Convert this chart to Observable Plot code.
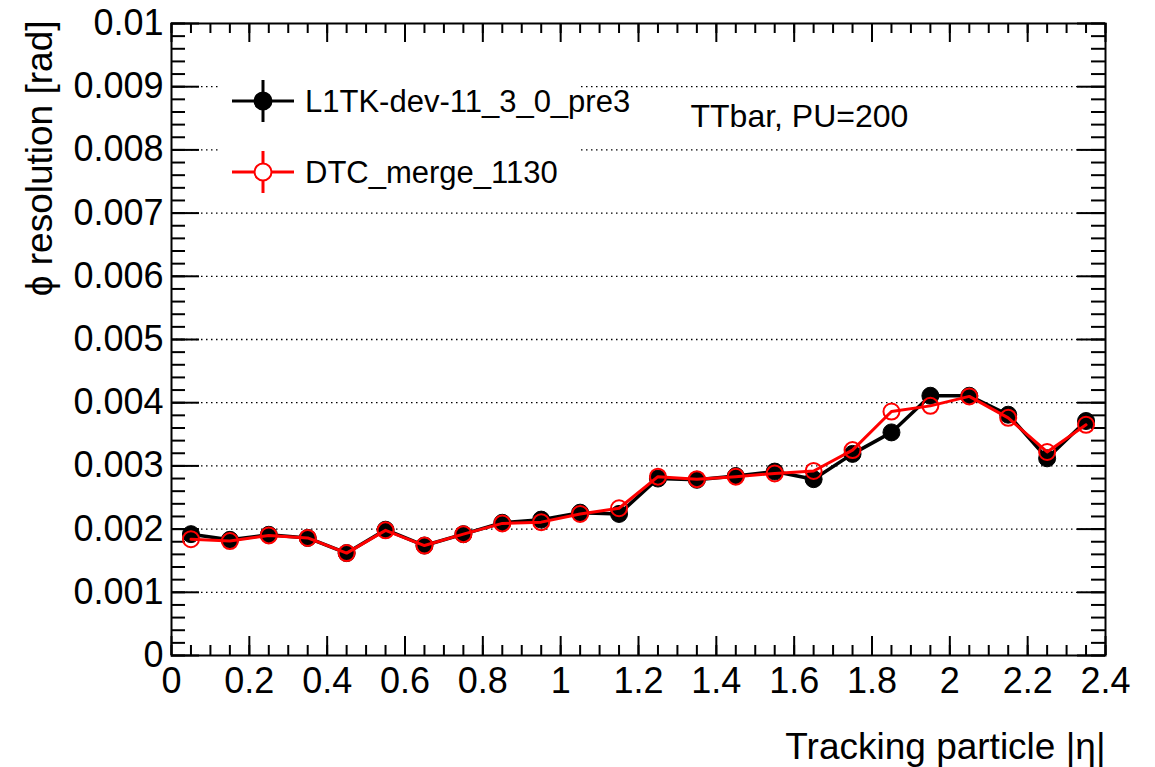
<!DOCTYPE html>
<html>
<head>
<meta charset="utf-8">
<script src="https://cdn.jsdelivr.net/npm/d3@7"></script>
<script src="https://cdn.jsdelivr.net/npm/@observablehq/plot@0.6"></script>
<style>
  html, body { margin: 0; padding: 0; background: #fff; }
  #wrap { position: relative; width: 1155px; height: 767px; font-family: "Liberation Sans", Arial, Helvetica, sans-serif; }
  #overlay { position: absolute; left: 0; top: 0; pointer-events: none; }
</style>
</head>
<body>
<div id="wrap"></div>
<script>
// ---- data ----
const eta = [0.05, 0.15, 0.25, 0.35, 0.45, 0.55, 0.65, 0.75, 0.85, 0.95, 1.05, 1.15,
             1.25, 1.35, 1.45, 1.55, 1.65, 1.75, 1.85, 1.95, 2.05, 2.15, 2.25, 2.35];
const l1tk = [0.00192, 0.00183, 0.00191, 0.00186, 0.00162, 0.00199, 0.00174, 0.00192,
              0.00210, 0.00215, 0.00226, 0.00224, 0.00280, 0.00278, 0.00284, 0.00291,
              0.00279, 0.00319, 0.00353, 0.00411, 0.00411, 0.00381, 0.00312, 0.00371];
const dtc  = [0.00184, 0.00181, 0.00190, 0.00186, 0.00162, 0.00198, 0.00174, 0.00192,
              0.00209, 0.00211, 0.00224, 0.00233, 0.00283, 0.00279, 0.00283, 0.00288,
              0.00292, 0.00325, 0.00386, 0.00395, 0.00410, 0.00376, 0.00322, 0.00365];
const seriesNames = ["L1TK-dev-11_3_0_pre3", "DTC_merge_1130"];
const xTickLabels = [0, 0.2, 0.4, 0.6, 0.8, 1, 1.2, 1.4, 1.6, 1.8, 2, 2.2, 2.4];
const yTickLabels = [0, 0.001, 0.002, 0.003, 0.004, 0.005, 0.006, 0.007, 0.008, 0.009, 0.01];
const xTitle = "Tracking particle |η|";
const yTitle = "ϕ resolution [rad]";
const annotation = "TTbar, PU=200";

// ---- layout ----
const W = 1155, H = 767;
const mL = 171, mR = 50, mT = 23, mB = 112;
const fw = W - mL - mR, fh = H - mT - mB;
const font = "Liberation Sans, Arial, Helvetica, sans-serif";

const black = eta.map((x, i) => ({x, y: l1tk[i]}));
const red = eta.map((x, i) => ({x, y: dtc[i]}));
const xMinor = d3.range(0, 2.4001, 0.05);
const yMinor = d3.range(0, 0.01001, 0.0002);
const yGrid = yTickLabels.slice(1, -1);
const fmt = d => String(+(+d).toFixed(4));

const plot = Plot.plot({
  width: W, height: H,
  marginLeft: mL, marginRight: mR, marginTop: mT, marginBottom: mB,
  style: {fontFamily: font, fontSize: "36px", background: "white", color: "black"},
  x: {domain: [0, 2.4]},
  y: {domain: [0, 0.01]},
  marks: [
    Plot.ruleY(yGrid, {y: d => d, stroke: "black", strokeWidth: 1.3, strokeDasharray: "1.5,3.5"}),
    // inward ticks
    Plot.tickX(xTickLabels, {x: d => d, insetTop: fh - 19, stroke: "black", strokeWidth: 2}),
    Plot.tickX(xMinor, {x: d => d, insetTop: fh - 10, stroke: "black", strokeWidth: 2}),
    Plot.tickX(xTickLabels, {x: d => d, insetBottom: fh - 19, stroke: "black", strokeWidth: 2}),
    Plot.tickX(xMinor, {x: d => d, insetBottom: fh - 10, stroke: "black", strokeWidth: 2}),
    Plot.tickY(yTickLabels, {y: d => d, insetRight: fw - 28, stroke: "black", strokeWidth: 2}),
    Plot.tickY(yMinor, {y: d => d, insetRight: fw - 14, stroke: "black", strokeWidth: 2}),
    Plot.tickY(yTickLabels, {y: d => d, insetLeft: fw - 28, stroke: "black", strokeWidth: 2}),
    Plot.tickY(yMinor, {y: d => d, insetLeft: fw - 14, stroke: "black", strokeWidth: 2}),
    Plot.axisX({ticks: xTickLabels, tickSize: 0, tickPadding: 12, tickFormat: fmt, label: null, fontSize: 36, fontFamily: font}),
    Plot.axisY({ticks: yTickLabels, tickSize: 0, tickPadding: 8, tickFormat: fmt, label: null, fontSize: 36, fontFamily: font}),
    Plot.frame({stroke: "black", strokeWidth: 2}),
    // series
    Plot.line(black, {x: "x", y: "y", stroke: "black", strokeWidth: 3.5}),
    Plot.dot(black, {x: "x", y: "y", r: 8.5, fill: "black", stroke: "black", strokeWidth: 1}),
    Plot.line(red, {x: "x", y: "y", stroke: "#ff0000", strokeWidth: 3}),
    Plot.dot(red, {x: "x", y: "y", r: 8, fill: "none", stroke: "#ff0000", strokeWidth: 2}),
    // titles
    Plot.text([xTitle], {text: d => d, frameAnchor: "bottom-right", dy: 103, textAnchor: "end", lineAnchor: "bottom", fontSize: 37, fontFamily: font, fill: "black"}),
    Plot.text([yTitle], {text: d => d, frameAnchor: "top-left", dx: -131, dy: -3, rotate: -90, textAnchor: "end", lineAnchor: "middle", fontSize: 37, fontFamily: font, fill: "black"}),
    Plot.text([annotation], {text: d => d, frameAnchor: "top-left", dx: 519, dy: 93, textAnchor: "start", lineAnchor: "middle", fontSize: 32, fontFamily: font, fill: "black"})
  ]
});
document.getElementById("wrap").appendChild(plot);

// ---- legend overlay ----
const ov = d3.select("#wrap").append("svg").attr("id", "overlay").attr("width", W).attr("height", H);
ov.append("rect").attr("x", 218).attr("y", 58).attr("width", 360).attr("height", 142).attr("fill", "white");
const entries = [
  {name: seriesNames[0], color: "black", filled: true, cy: 101},
  {name: seriesNames[1], color: "#ff0000", filled: false, cy: 172}
];
entries.forEach(e => {
  const g = ov.append("g");
  const cx = 263, r = 8.5;
  const gap = e.filled ? 0 : r;
  g.append("line").attr("x1", 232).attr("x2", cx - gap).attr("y1", e.cy).attr("y2", e.cy).attr("stroke", e.color).attr("stroke-width", 3);
  g.append("line").attr("x1", cx + gap).attr("x2", 294).attr("y1", e.cy).attr("y2", e.cy).attr("stroke", e.color).attr("stroke-width", 3);
  g.append("line").attr("x1", cx).attr("x2", cx).attr("y1", e.cy - 21).attr("y2", e.cy - gap).attr("stroke", e.color).attr("stroke-width", 3);
  g.append("line").attr("x1", cx).attr("x2", cx).attr("y1", e.cy + gap).attr("y2", e.cy + 21).attr("stroke", e.color).attr("stroke-width", 3);
  g.append("circle").attr("cx", cx).attr("cy", e.cy).attr("r", r)
    .attr("fill", e.filled ? e.color : "none").attr("stroke", e.color).attr("stroke-width", 2);
  g.append("text").attr("x", 305).attr("y", e.cy).attr("dy", "0.35em")
    .attr("font-family", font).attr("font-size", 31).attr("fill", "black").text(e.name);
});
</script>
</body>
</html>
